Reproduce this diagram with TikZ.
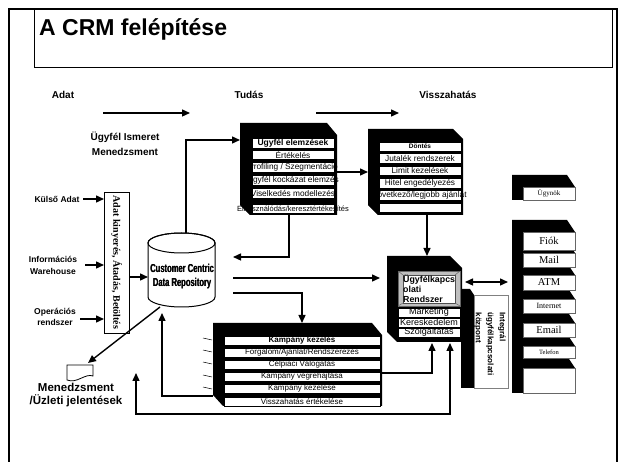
\documentclass[tikz,border=0pt]{standalone}
\usepackage{fontspec}
\setmainfont{Liberation Sans}
\newfontfamily\tmsfont{Liberation Serif}
\usetikzlibrary{arrows.meta}
\newcommand\mkrow[7]{%
  \node[rowbox, minimum width=#4pt, minimum height=#5pt] (#1) at (#2,#3) {};
  \node[rowtxt, font=\fontsize{#6}{#6}\selectfont] (#1t) at (#1.center) {#7};}
\newcommand\mkchan[5]{%
  \fill (512,#2-12) -- (567,#2-12) -- (575,#2) -- (575,#3) -- (512,#3) -- cycle;
  \draw[chanline] (523,#2) rectangle (575,#3);
  \node[chantxt, font=\tmsfont\fontsize{#4}{#4}\selectfont] (#1) at (549,{(#2+#3)/2}) {#5};}
\begin{document}
\begin{tikzpicture}[x=1pt,y=-1pt,
  rowbox/.style={draw=black, line width=0.7pt, fill=white, inner sep=0pt, outer sep=0pt, anchor=north west},
  rowtxt/.style={inner sep=0pt},
  hdr/.style={font=\bfseries\fontsize{10}{12}\selectfont, inner sep=0pt, align=center},
  side/.style={font=\bfseries\fontsize{8.5}{12}\selectfont, inner sep=0pt, align=center},
  arr/.style={line width=1.4pt, -{Triangle[length=8pt,width=7pt]}},
  darr/.style={line width=1.4pt, {Triangle[length=8pt,width=7pt]}-{Triangle[length=8pt,width=7pt]}},
  chanline/.style={draw=black!60, line width=0.7pt, fill=white},
  chantxt/.style={inner sep=0pt},
  holder/.style={inner sep=0pt, outer sep=0pt, anchor=north west},
  cyltxt/.style={font=\bfseries\fontsize{11.5}{12}\selectfont, inner sep=0pt},
]
\useasboundingbox (0,0) rectangle (619,462);
% frame and title
\draw[line width=2.2pt] (9,463) -- (9,9) -- (617,9) -- (617,463);
\draw[line width=1pt] (34,10) rectangle (612,68);
\node[anchor=base west, font=\bfseries\fontsize{23}{26}\selectfont, inner sep=0pt] (title) at (39,36) {A CRM felépítése};

% headers
\node[hdr] (hAdat) at (63,95) {Adat};
\node[hdr] (hTudas) at (249,95) {Tudás};
\node[hdr] (hVissza) at (448,95) {Visszahatás};
\coordinate (a1s) at (103,113); \coordinate (a1e) at (190,113);
\draw[arr] (a1s) -- (a1e);
\coordinate (a2s) at (316,113); \coordinate (a2e) at (399,113);
\draw[arr] (a2s) -- (a2e);
\node[hdr, font=\bfseries\fontsize{10}{15}\selectfont] (uim) at (125,144) {Ügyfél Ismeret\\Menedzsment};

% left labels
\node[side] (kulso) at (57,199) {Külső Adat};
\node[side] (info) at (53,265) {Információs\\Warehouse};
\node[side, font=\bfseries\fontsize{8.5}{11}\selectfont] (oper) at (55,317) {Operációs\\rendszer};

% extraction box
\node[draw, line width=0.8pt, fill=white, minimum width=25pt, minimum height=141pt, holder] (abox) at (104,192) {};
\node[rotate=-90, font=\tmsfont\bfseries\fontsize{10}{10}\selectfont, inner sep=0pt] (aboxt) at (abox.center) {Adat kinyerés, Átadás, Betöltés};
\coordinate (k1) at (83,199); \draw[arr] (k1) -- (k1 -| abox.west);
\coordinate (i1) at (85,265); \draw[arr] (i1) -- (i1 -| abox.west);
\coordinate (o1) at (80,319); \draw[arr] (o1) -- (o1 -| abox.west);

% cylinder
\draw[line width=1pt, fill=white] (148,243) -- (148,297) arc[start angle=180, end angle=360, x radius=33.5pt, y radius=10pt] -- (215,243) arc[start angle=0, end angle=180, x radius=33.5pt, y radius=10pt] -- cycle;
\draw[line width=1pt] (181.5,243) ellipse [x radius=33.5pt, y radius=10pt];
\node[holder, minimum width=67pt, minimum height=74pt] (cyl) at (148,233) {};
\node[cyltxt] (cyl1) at (182,268) {\scalebox{0.66}[1]{Customer Centric}};
\node[cyltxt] (cyl1b) at (182.35,268) {\scalebox{0.66}[1]{Customer Centric}};
\node[cyltxt] (cyl2) at (182,284) {\scalebox{0.66}[1]{Data Repository}};
\node[cyltxt] (cyl2b) at (182.35,284) {\scalebox{0.66}[1]{Data Repository}};
\coordinate (c15) at (129,277); \draw[arr] (c15) -- (c15 -| cyl.west);

% management report document
\draw[line width=0.8pt, fill=white] (67,365) -- (93,365) -- (93,376) .. controls (85,373) and (77,384) .. (67,380) -- cycle;
\node[holder, minimum width=26pt, minimum height=15pt] (doc) at (67,365) {};
\node[font=\bfseries\fontsize{11.5}{13}\selectfont, align=center, inner sep=0pt] (mgmt) at (76,395) {Menedzsment\\/Üzleti jelentések};
\coordinate (c9) at (160,307); \coordinate (c9e) at (88,363);
\draw[arr] (c9) -- (c9e);

% Ugyfel elemzesek block
\fill (240,123) -- (327,123) -- (337,135) -- (337,215) -- (250,215) -- (240,205) -- cycle;
\node[holder, minimum width=87pt, minimum height=80pt] (ue) at (250,135) {};
\mkrow{ue1}{252}{138}{82}{10}{8.5}{\bfseries Ügyfél elemzések}
\mkrow{ue2}{252}{150}{82}{9}{8.3}{Értékelés}
\mkrow{ue3}{252}{162}{82}{10}{8.3}{Profiling / Szegmentáció}
\mkrow{ue4}{252}{175}{82}{10}{8.3}{Ügyfél kockázat elemzés}
\mkrow{ue5}{252}{188}{82}{10}{8.3}{Viselkedés modellezés}
\mkrow{ue6}{252}{204}{82}{9}{7.5}{Elhasználódás/keresztértékesítés}
\fill (240,123) -- (250,135) -- (250,215) -- (240,205) -- cycle;

% Dontes block
\fill (368,129) -- (453,129) -- (463,139) -- (463,215) -- (378,215) -- (368,205) -- cycle;
\node[holder, minimum width=85pt, minimum height=76pt] (dt) at (378,139) {};
\mkrow{dt1}{379}{142}{82}{9}{6.5}{\bfseries Döntés}
\mkrow{dt2}{379}{153}{82}{10}{8.3}{Jutalék rendszerek}
\mkrow{dt3}{379}{166}{82}{9}{8.3}{Limit kezelések}
\mkrow{dt4}{379}{178}{82}{10}{8.3}{Hitel engedélyezés}
\mkrow{dt5}{379}{190}{82}{10}{8.3}{következő/legjobb ajánlat}
\mkrow{dt6}{379}{203}{82}{9}{8.3}{}
\fill (368,129) -- (378,139) -- (378,215) -- (368,205) -- cycle;

% connectors in upper part
\coordinate (cTop) at (186,233); \coordinate (ueIn) at (240,140);
\draw[arr] (cTop) |- (ueIn);
\coordinate (ueOut) at (337,172); \coordinate (dtIn) at (368,172);
\draw[arr] (ueOut) -- (dtIn);
\coordinate (ueB) at (289,215); \coordinate (cylR1) at (233,257);
\draw[arr] (ueB) |- (cylR1);
\coordinate (dtB) at (427,215); \coordinate (sysT) at (427,256);
\draw[arr] (dtB) -- (sysT);

% CRM system block
\fill (387,256) -- (450,256) -- (462,268) -- (462,342) -- (397,342) -- (387,332) -- cycle;
\node[holder, minimum width=65pt, minimum height=74pt] (sys) at (397,268) {};
\fill[black!25] (398,271) rectangle (460,306);
\draw[black!60, line width=0.6pt] (398,271) rectangle (460,306);
\draw[black!70, line width=0.6pt, fill=white] (403,275) rectangle (455,303);
\draw[black!60, line width=0.5pt] (398,271) -- (403,275) (460,271) -- (455,275) (398,306) -- (403,303) (460,306) -- (455,303);
\node[anchor=north west, align=left, font=\bfseries\fontsize{8.8}{10}\selectfont, inner sep=0pt] (systxt) at (403,275) {Ügyfélkapcs\\olati\\Rendszer};
\mkrow{sy1}{398}{308}{62}{9}{9}{Marketing}
\mkrow{sy2}{398}{318}{62}{9}{9}{Kereskedelem}
\mkrow{sy3}{398}{328}{62}{9}{9}{Szolgáltatás}

\coordinate (cR2) at (233,278); \coordinate (sysL) at (380,278);
\draw[arr] (cR2) -- (sysL);
\coordinate (cR3) at (233,293); \coordinate (kpT) at (302,323);
\draw[arr] (cR3) -| (kpT);

% Kampany block
\fill (213,323) -- (372,323) -- (382,335) -- (382,406) -- (223,406) -- (213,395) -- cycle;
\node[holder, minimum width=159pt, minimum height=71pt] (kp) at (223,335) {};
\mkrow{kp1}{224}{336}{156}{9}{8}{\bfseries Kampány kezelés}
\mkrow{kp2}{224}{348}{156}{9}{8}{Forgalom/Ajánlat/Rendszerezés}
\mkrow{kp3}{224}{360}{156}{9}{8}{Célpiaci Válogatás}
\mkrow{kp4}{224}{372}{156}{9}{8}{Kampány végrehajtása}
\mkrow{kp5}{224}{384}{156}{9}{8}{Kampány kezelése}
\mkrow{kp6}{224}{397}{156}{9}{8}{Visszahatás értékelése}
\foreach \ty in {338,350,362,375,387} \draw[line width=0.5pt] (203,\ty) -- (212,\ty+2);

\coordinate (kpL) at (213,396); \coordinate (cylB) at (162,313);
\draw[arr] (kpL) -| (cylB);
\coordinate (kpR) at (382,373); \coordinate (sysB1) at (432,343);
\draw[arr] (kpR) -| (sysB1);
\coordinate (lp) at (136,373); \coordinate (bl) at (136,414);
\coordinate (br) at (450,414); \coordinate (sysB2) at (450,343);
\draw[darr] (lp) -- (bl) -- (br) -- (sysB2);

% integral contact centre
\fill (461,289) -- (470,289) -- (474,295) -- (474,388) -- (461,388) -- cycle;
\draw[black!50, line width=0.7pt, fill=white] (474,295) rectangle (508,388);
\node[holder, minimum width=34pt, minimum height=93pt] (itg) at (474,295) {};
\node[rotate=-90, align=left, font=\bfseries\fontsize{8}{12}\selectfont, inner sep=0pt] (itgt) at (490,344) {Integrál\\ügyfélkapcsolati\\központ};

\coordinate (d1) at (465,282); \coordinate (d2) at (508,282);
\draw[darr] (d1) -- (d2);

% channel boxes
\mkchan{ugynok}{187}{200}{7}{Ügynök}
\mkchan{ures}{368}{393}{9}{}
\mkchan{telefon}{346}{358}{6.5}{Telefon}
\mkchan{email}{323}{337}{10.5}{Email}
\mkchan{internet}{299}{313}{8}{Internet}
\mkchan{atm}{275}{290}{10.5}{ATM}
\mkchan{mail}{253}{267}{10.5}{Mail}
\mkchan{fiok}{232}{250}{10.5}{Fiók}
\end{tikzpicture}
\end{document}
